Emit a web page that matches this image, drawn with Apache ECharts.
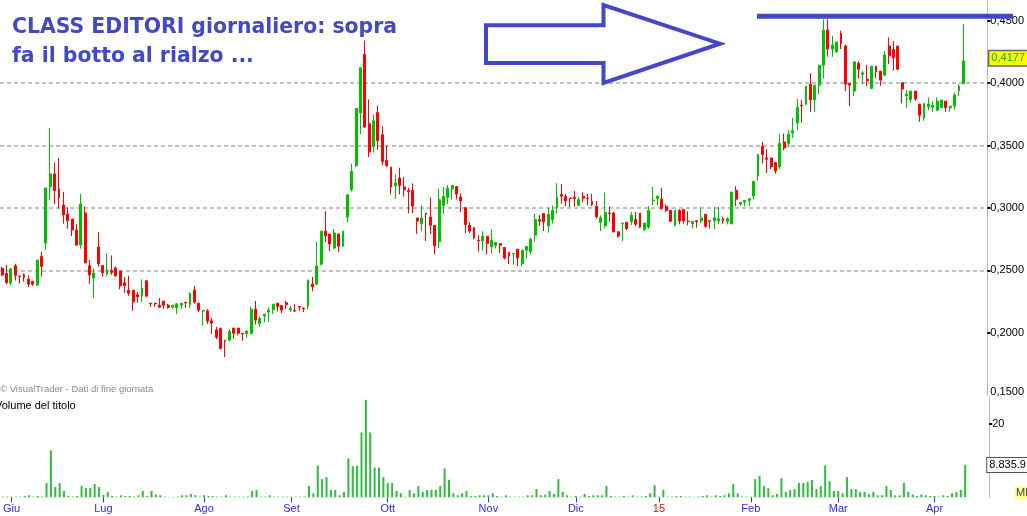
<!DOCTYPE html>
<html><head><meta charset="utf-8">
<script src="https://cdn.jsdelivr.net/npm/echarts@6/dist/echarts.min.js"></script>
<style>html,body{margin:0;padding:0;background:#fff;overflow:hidden}#c{width:1027px;height:516px}</style>
</head><body><div id="c"></div>
<script>
// ---------- data ----------
const startDate = '2014-05-29';
const closedDays = ['2014-08-15','2014-12-24','2014-12-25','2014-12-26','2014-12-31','2015-01-01','2015-04-03','2015-04-06'];
const monthNames = ['Gen','Feb','Mar','Apr','Mag','Giu','Lug','Ago','Set','Ott','Nov','Dic'];
const priceTickValues = [0.2, 0.25, 0.3, 0.35, 0.4, 0.45];
const volumeTickValues = [10, 20];
const volumeLabelValues = [20];
const titleLines = ['CLASS EDITORI giornaliero: sopra', 'fa il botto al rialzo ...'];
const lastCloseText = '0,4177';
const lastVolumeText = '8.835.9';

// [open, close, low, high]
const ohlc = [
[0.2516,0.2463,0.2455,0.2530],[0.2475,0.2403,0.2390,0.2545],[0.2400,0.2513,0.2380,0.2513],[0.2537,0.2460,0.2420,0.2553],
[0.2455,0.2450,0.2395,0.2457],[0.2466,0.2444,0.2410,0.2476],[0.2430,0.2390,0.2365,0.2460],[0.2412,0.2390,0.2377,0.2418],
[0.2383,0.2583,0.2377,0.2583],[0.2612,0.2533,0.2450,0.2650],[0.2720,0.3160,0.2665,0.3160],[0.3170,0.3273,0.3064,0.3642],
[0.3273,0.3140,0.3032,0.3364],[0.3153,0.3083,0.2997,0.3401],[0.3024,0.2944,0.2874,0.3128],[0.2952,0.2898,0.2834,0.3005],
[0.2912,0.2824,0.2775,0.2912],[0.2824,0.2703,0.2695,0.2872],[0.2703,0.3032,0.2674,0.3112],[0.2960,0.2561,0.2556,0.3013],
[0.2537,0.2463,0.2390,0.2583],[0.2439,0.2479,0.2281,0.2516],[0.2687,0.2553,0.2529,0.2807],[0.2540,0.2481,0.2449,0.2540],
[0.2473,0.2505,0.2455,0.2636],[0.2500,0.2484,0.2465,0.2620],[0.2519,0.2457,0.2449,0.2532],[0.2495,0.2377,0.2350,0.2495],
[0.2401,0.2377,0.2321,0.2447],[0.2342,0.2318,0.2297,0.2457],[0.2342,0.2249,0.2177,0.2342],[0.2305,0.2289,0.2241,0.2326],
[0.2297,0.2358,0.2249,0.2428],[0.2417,0.2294,0.2289,0.2423],[0.2238,0.2233,0.2209,0.2238],[0.2238,0.2233,0.2209,0.2238],
[0.2222,0.2206,0.2200,0.2278],[0.2254,0.2222,0.2193,0.2254],[0.2222,0.2203,0.2193,0.2233],[0.2206,0.2222,0.2193,0.2222],
[0.2203,0.2233,0.2152,0.2238],[0.2222,0.2238,0.2193,0.2238],[0.2246,0.2241,0.2200,0.2246],[0.2225,0.2313,0.2200,0.2326],
[0.2342,0.2246,0.2233,0.2374],[0.2238,0.2182,0.2166,0.2238],[0.2174,0.2179,0.2056,0.2182],[0.2176,0.2094,0.2072,0.2190],
[0.2096,0.2078,0.1992,0.2118],[0.2024,0.1964,0.1950,0.2047],[0.2037,0.1875,0.1868,0.2037],[0.1941,0.1935,0.1806,0.1941],
[0.1941,0.2011,0.1933,0.2030],[0.2038,0.1997,0.1952,0.2038],[0.2038,0.1997,0.1979,0.2038],[0.1997,0.1992,0.1936,0.1997],
[0.1992,0.2013,0.1960,0.2024],[0.1995,0.2190,0.1990,0.2210],[0.2190,0.2102,0.2067,0.2255],[0.2072,0.2115,0.2048,0.2131],
[0.2134,0.2150,0.2086,0.2150],[0.2166,0.2182,0.2086,0.2206],[0.2185,0.2230,0.2152,0.2230],[0.2238,0.2209,0.2171,0.2238],
[0.2219,0.2182,0.2158,0.2219],[0.2241,0.2225,0.2190,0.2257],[0.2185,0.2198,0.2168,0.2219],[0.2179,0.2174,0.2166,0.2230],
[0.2211,0.2206,0.2177,0.2211],[0.2198,0.2193,0.2166,0.2203],[0.2214,0.2424,0.2189,0.2424],[0.2390,0.2369,0.2334,0.2447],
[0.2390,0.2535,0.2382,0.2727],[0.2550,0.2815,0.2540,0.2815],[0.2815,0.2778,0.2727,0.2975],[0.2791,0.2711,0.2655,0.2791],
[0.2679,0.2800,0.2671,0.2832],[0.2791,0.2695,0.2647,0.2797],[0.2695,0.2815,0.2687,0.2815],[0.2927,0.3106,0.2885,0.3106],
[0.3147,0.3293,0.3131,0.3355],[0.3341,0.3797,0.3328,0.3797],[0.3760,0.4123,0.3592,0.4123],[0.4229,0.3648,0.3640,0.4341],
[0.3675,0.3448,0.3408,0.3869],[0.3493,0.3699,0.3445,0.3749],[0.3765,0.3541,0.3467,0.3821],[0.3587,0.3373,0.3341,0.3653],
[0.3381,0.3341,0.3328,0.3501],[0.3328,0.3168,0.3109,0.3328],[0.3176,0.3200,0.3072,0.3269],[0.3240,0.3181,0.3109,0.3323],
[0.3168,0.3145,0.3090,0.3248],[0.3141,0.3130,0.2958,0.3160],[0.3141,0.3015,0.2958,0.3197],[0.2920,0.2895,0.2793,0.2920],
[0.2875,0.2920,0.2813,0.3021],[0.2958,0.2950,0.2736,0.2958],[0.2928,0.2861,0.2790,0.3084],[0.2861,0.2697,0.2630,0.2861],
[0.2729,0.3066,0.2679,0.3154],[0.3021,0.3093,0.2955,0.3168],[0.3083,0.3157,0.3030,0.3184],[0.3152,0.3181,0.3068,0.3181],
[0.3172,0.3110,0.3068,0.3172],[0.3088,0.3056,0.2968,0.3117],[0.3002,0.2867,0.2801,0.3005],[0.2861,0.2815,0.2800,0.2887],
[0.2843,0.2761,0.2749,0.2843],[0.2742,0.2737,0.2650,0.2782],[0.2737,0.2774,0.2656,0.2814],[0.2774,0.2716,0.2626,0.2774],
[0.2689,0.2742,0.2634,0.2829],[0.2701,0.2725,0.2675,0.2725],[0.2715,0.2701,0.2640,0.2715],[0.2683,0.2599,0.2587,0.2688],
[0.2644,0.2616,0.2551,0.2644],[0.2632,0.2635,0.2545,0.2635],[0.2670,0.2601,0.2535,0.2670],[0.2554,0.2662,0.2530,0.2662],
[0.2662,0.2692,0.2595,0.2692],[0.2650,0.2749,0.2632,0.2764],[0.2783,0.2907,0.2730,0.2955],[0.2907,0.2894,0.2857,0.2942],
[0.2955,0.2889,0.2815,0.2955],[0.2857,0.2950,0.2802,0.3003],[0.2907,0.2981,0.2876,0.3021],[0.3000,0.3087,0.2955,0.3198],
[0.3108,0.3095,0.3034,0.3193],[0.3093,0.3056,0.3013,0.3114],[0.3080,0.3076,0.3008,0.3080],[0.3087,0.3074,0.3013,0.3135],
[0.3021,0.3066,0.3016,0.3087],[0.3093,0.3079,0.3048,0.3127],[0.3079,0.3075,0.3021,0.3114],[0.3053,0.3026,0.3016,0.3114],
[0.3013,0.2929,0.2915,0.3056],[0.2884,0.2921,0.2815,0.2942],[0.2857,0.2963,0.2836,0.3124],[0.2960,0.2956,0.2889,0.3013],
[0.2960,0.2810,0.2802,0.2968],[0.2810,0.2775,0.2762,0.2810],[0.2876,0.2879,0.2735,0.2879],[0.2886,0.2836,0.2823,0.2886],
[0.2889,0.2942,0.2862,0.2968],[0.2907,0.2870,0.2854,0.2968],[0.2958,0.2846,0.2838,0.2958],[0.2827,0.2878,0.2815,0.2884],
[0.2848,0.2981,0.2833,0.3015],[0.3060,0.3064,0.3020,0.3168],[0.3075,0.3094,0.3021,0.3102],[0.3070,0.2995,0.2987,0.3160],
[0.3013,0.2981,0.2968,0.3029],[0.2981,0.2893,0.2888,0.2981],[0.2861,0.2981,0.2853,0.2981],[0.2981,0.2896,0.2869,0.2989],
[0.2989,0.2896,0.2874,0.2989],[0.2895,0.2891,0.2861,0.2973],[0.2874,0.2893,0.2834,0.2893],[0.2898,0.2890,0.2842,0.2898],
[0.2896,0.2920,0.2880,0.3008],[0.2949,0.2853,0.2842,0.2949],[0.2898,0.2894,0.2834,0.2898],[0.2896,0.2922,0.2829,0.3008],
[0.2896,0.2914,0.2869,0.3008],[0.2914,0.2898,0.2874,0.2930],[0.2893,0.2914,0.2869,0.2925],[0.2874,0.3128,0.2869,0.3128],
[0.3142,0.3070,0.3016,0.3174],[0.3032,0.3045,0.3016,0.3045],[0.3048,0.3061,0.3013,0.3061],[0.3061,0.3075,0.3016,0.3075],
[0.3096,0.3214,0.3070,0.3214],[0.3257,0.3430,0.3217,0.3430],[0.3495,0.3428,0.3356,0.3529],[0.3401,0.3390,0.3281,0.3471],
[0.3401,0.3329,0.3310,0.3401],[0.3364,0.3297,0.3275,0.3364],[0.3329,0.3516,0.3310,0.3591],[0.3529,0.3481,0.3463,0.3596],
[0.3516,0.3591,0.3489,0.3623],[0.3602,0.3618,0.3561,0.3722],[0.3682,0.3805,0.3623,0.3872],[0.3824,0.3818,0.3682,0.3864],
[0.3832,0.3976,0.3824,0.3976],[0.3992,0.3866,0.3770,0.4080],[0.3866,0.3984,0.3770,0.3984],[0.3984,0.4144,0.3912,0.4144],
[0.4144,0.4425,0.4037,0.4511],[0.4425,0.4273,0.4211,0.4511],[0.4273,0.4305,0.4211,0.4377],[0.4251,0.4329,0.4243,0.4329],
[0.4398,0.4318,0.4273,0.4420],[0.4297,0.3992,0.3936,0.4305],[0.3997,0.3984,0.3816,0.3997],[0.3936,0.4171,0.3896,0.4171],
[0.4158,0.4112,0.4037,0.4176],[0.4070,0.4083,0.3992,0.4096],[0.4032,0.4019,0.3976,0.4144],[0.3957,0.4136,0.3952,0.4136],
[0.4136,0.4091,0.4037,0.4136],[0.4096,0.4024,0.3979,0.4096],[0.4064,0.4225,0.4056,0.4257],[0.4297,0.4219,0.4152,0.4366],
[0.4270,0.4203,0.4099,0.4337],[0.4297,0.4112,0.4104,0.4297],[0.4003,0.3952,0.3837,0.4003],[0.3898,0.3912,0.3802,0.3944],
[0.3869,0.3936,0.3842,0.3936],[0.3936,0.3872,0.3858,0.3936],[0.3832,0.3743,0.3690,0.3832],[0.3722,0.3837,0.3698,0.3837],
[0.3810,0.3832,0.3783,0.3885],[0.3805,0.3824,0.3770,0.3856],[0.3783,0.3856,0.3778,0.3885],[0.3805,0.3864,0.3805,0.3864],
[0.3856,0.3805,0.3770,0.3856],[0.3802,0.3816,0.3770,0.3816],[0.3818,0.3904,0.3789,0.3925],[0.3938,0.3976,0.3898,0.3992],
[0.3997,0.4177,0.3992,0.4473]
];

// volume, millions of shares
const volumes = [
0.2,0.18,0.18,0.18,0.18,0.36,0.54,0.18,0.36,0.2,
3.87,12.8,2.79,3.87,1.71,0.36,0.18,0.36,3.06,2.52,
2.52,3.6,2.79,0.63,1.44,0.36,0.18,0.54,0.36,0.36,
0.18,0.54,1.71,0.36,1.71,0.72,0.54,0.18,0.1,0.1,
0.2,0.54,0.54,0.9,0.54,0.18,0.54,0.36,0.36,0.18,
0.18,0.54,0.18,0.18,0.18,0.18,0.18,1.71,1.98,0.18,
0.18,0.54,0.18,0.18,0.18,0.18,0.18,0.18,0.18,0.18,
3.06,1.08,8.65,4.95,5.5,1.98,1.98,0.54,1.44,10.6,
8.5,8.65,17.7,26.6,17.7,8.1,8.1,5.5,3.87,3.87,
1.71,1.08,0.18,1.98,1.08,3.06,1.44,1.98,1.98,1.98,
3.06,7.9,4.77,1.08,0.54,1.08,1.71,0.36,0.36,0.54,
0.54,0.54,1.08,0.36,0.18,0.54,0.18,0.18,0.18,0.18,
0.54,0.54,2.25,0.54,0.72,1.71,0.9,4.95,1.44,0.54,
0.18,0.36,0.18,0.9,0.36,0.54,0.54,0.54,3.06,0.36,
0.18,0.18,0.36,0.18,0.54,0.18,0.18,0.36,1.08,3.3,
0.18,2.1,0.18,0.18,0.36,0.36,0.18,0.18,0.1,0.18,
0.36,0.54,0.18,0.54,0.36,0.54,1.08,3.6,1.08,0.18,
0.18,0.18,4.95,5.8,3.06,2.5,0.54,0.9,5.2,1.44,
1.98,2.25,3.9,3.9,4.2,4.7,2.25,3.06,8.7,4.4,
1.71,1.71,1.08,5.5,2.25,2.25,1.44,1.44,0.8,1.44,
0.54,0.54,3.06,1.98,0.54,0.54,3.9,1.44,0.8,0.36,
0.8,0.54,0.36,0.37,0.18,0.55,0.37,1.1,1.46,2.0,
8.8359
];

// ---------- categories: trading days ----------
const dates = [];
{
  const d = new Date(startDate + 'T00:00:00Z');
  while (dates.length < ohlc.length) {
    const iso = d.toISOString().slice(0, 10);
    const wd = d.getUTCDay();
    if (wd !== 0 && wd !== 6 && closedDays.indexOf(iso) < 0) dates.push(iso);
    d.setUTCDate(d.getUTCDate() + 1);
  }
}
const PAD = 5;
const categories = dates.concat(new Array(PAD).fill(''));
const isMonthStart = categories.map((c, i) => !!c && i > 0 && c.slice(5, 7) !== categories[i - 1].slice(5, 7));
function monthLabel(v) {
  if (!v) return '';
  const m = +v.slice(5, 7);
  return m === 1 ? v.slice(2, 4) : monthNames[m - 1];
}

// ---------- layout ----------
const N = categories.length;
const bandW = 4.389;
const gridLeft = -0.5 - bandW / 2;
const gridWidth = N * bandW;
const pxPerUnit = 1248.6;
const priceMin = 0.15;
const y045 = 20.7;
const priceMax = 0.45 + y045 / pxPerUnit;   // top edge of the price panel (y = 0)
const priceHeight = (priceMax - priceMin) * pxPerUnit;
const volBase = 497.3, volPx = 3.665, volMax = 27;

const blue = '#4248c8';
const gridLine = { color: '#c0c0c0', type: [4, 3], width: 2 };
const FONT = 'Liberation Sans, Arial, sans-serif';

const chart = echarts.init(document.getElementById('c'), null, { renderer: 'canvas' });
chart.setOption({
  animation: false,
  backgroundColor: '#ffffff',
  grid: [
    { left: gridLeft, width: gridWidth, top: 0, height: priceHeight },
    { left: gridLeft, width: gridWidth, top: volBase - volMax * volPx, height: volMax * volPx }
  ],
  xAxis: [
    { type: 'category', gridIndex: 0, data: categories, boundaryGap: true,
      axisLine: { show: false }, axisTick: { show: false }, axisLabel: { show: false }, splitLine: { show: false } },
    { type: 'category', gridIndex: 1, data: categories, boundaryGap: true,
      axisLine: { show: false },
      axisTick: { show: true, alignWithLabel: true, length: 5, interval: (i) => isMonthStart[i], lineStyle: { color: '#2a2aff', width: 1 } },
      axisLabel: { show: true, interval: (i) => isMonthStart[i], formatter: monthLabel, margin: 6,
        fontSize: 11, fontFamily: FONT,
        color: (v) => (v && v.slice(5, 7) === '01') ? '#ff0000' : '#2a2aff' },
      splitLine: { show: false } }
  ],
  yAxis: [
    { type: 'value', gridIndex: 0, position: 'right', min: priceMin, max: priceMax, interval: 0.05,
      axisLine: { show: true, lineStyle: { color: '#b8b8b8', width: 1 } },
      axisTick: { show: true, length: 3, customValues: priceTickValues, lineStyle: { color: '#000', width: 2 } },
      axisLabel: { show: true, margin: 3, fontSize: 11, fontFamily: FONT, color: '#000', showMaxLabel: false,
        formatter: (v) => v <= priceMin + 1e-9 ? '{low|' + v.toFixed(4).replace('.', ',') + '}' : v.toFixed(4).replace('.', ','),
        rich: { low: { fontSize: 11, fontFamily: FONT, color: '#000', padding: [0, 0, 7, 0] } } },
      splitLine: { show: true, showMinLine: false, showMaxLine: false, lineStyle: gridLine } },
    { type: 'value', gridIndex: 1, position: 'right', min: 0, max: volMax, interval: 10,
      axisLine: { show: true, lineStyle: { color: '#b8b8b8', width: 1 } },
      axisTick: { show: true, length: 3, customValues: volumeTickValues, lineStyle: { color: '#000', width: 2 } },
      axisLabel: { show: true, margin: 3, fontSize: 11, fontFamily: FONT, color: '#000', customValues: volumeLabelValues,
        formatter: (v) => String(v) },
      splitLine: { show: true, showMinLine: false, showMaxLine: false, lineStyle: gridLine } }
  ],
  series: [
    { type: 'candlestick', xAxisIndex: 0, yAxisIndex: 0, data: ohlc, barWidth: 2.4,
      itemStyle: { color: '#00c000', color0: '#ff0000', borderColor: '#00c000', borderColor0: '#ff0000', borderWidth: 1 },
      markLine: { silent: true, symbol: 'none', animation: false,
        lineStyle: { color: 'rgba(0,0,0,0)', width: 0 },
        data: [{ yAxis: ohlc[ohlc.length - 1][1] }],
        label: { show: true, position: 'end', distance: 2, formatter: lastCloseText,
          color: '#00b000', backgroundColor: '#ffff00', borderColor: '#666', borderWidth: 1.5,
          padding: [2, 2, 1, 2], fontSize: 11, fontFamily: FONT } } },
    { type: 'bar', xAxisIndex: 1, yAxisIndex: 1, data: volumes, barWidth: 2,
      itemStyle: { color: '#2fbd3e' },
      markLine: { silent: true, symbol: 'none', animation: false,
        lineStyle: { color: 'rgba(0,0,0,0)', width: 0 },
        data: [{ yAxis: volumes[volumes.length - 1] }],
        label: { show: true, position: 'end', distance: -2, formatter: lastVolumeText,
          color: '#000', backgroundColor: '#ffffff', borderColor: '#555', borderWidth: 1,
          padding: [2, 2, 1, 2], fontSize: 11, fontFamily: FONT } } }
  ],
  graphic: [
    { type: 'text', x: 12, y: 28, z: 100, style: { text: titleLines[0], font: 'bold 20.4px DejaVu Sans', fill: blue, textVerticalAlign: 'middle' } },
    { type: 'text', x: 12, y: 56.5, z: 100, style: { text: titleLines[1], font: 'bold 20.4px DejaVu Sans', fill: blue, textVerticalAlign: 'middle' } },
    { type: 'polygon', z: 100, shape: { points: [[486, 25.3], [603.5, 25.3], [603.5, 5], [720, 43.7], [603.5, 83], [603.5, 63], [486, 63]] },
      style: { fill: 'none', stroke: blue, lineWidth: 4, lineJoin: 'miter' } },
    { type: 'line', z: 100, shape: { x1: 757, y1: 16.3, x2: 1013, y2: 16.3 }, style: { stroke: blue, lineWidth: 5 } },
    { type: 'text', x: 0, y: 389, style: { text: '\u00A9 VisualTrader - Dati di fine giornata', font: '9.5px Liberation Sans', fill: '#8a8a8a', textVerticalAlign: 'middle' } },
    { type: 'text', x: -5, y: 406, style: { text: 'Volume del titolo', font: '11px Liberation Sans', fill: '#000', textVerticalAlign: 'middle' } },
    { type: 'text', x: 1015, y: 493, style: { text: 'Ml', font: '11px Liberation Sans', fill: '#444', backgroundColor: '#ffff88', padding: [1, 1], textVerticalAlign: 'middle' } }
  ]
});
</script>
</body></html>
